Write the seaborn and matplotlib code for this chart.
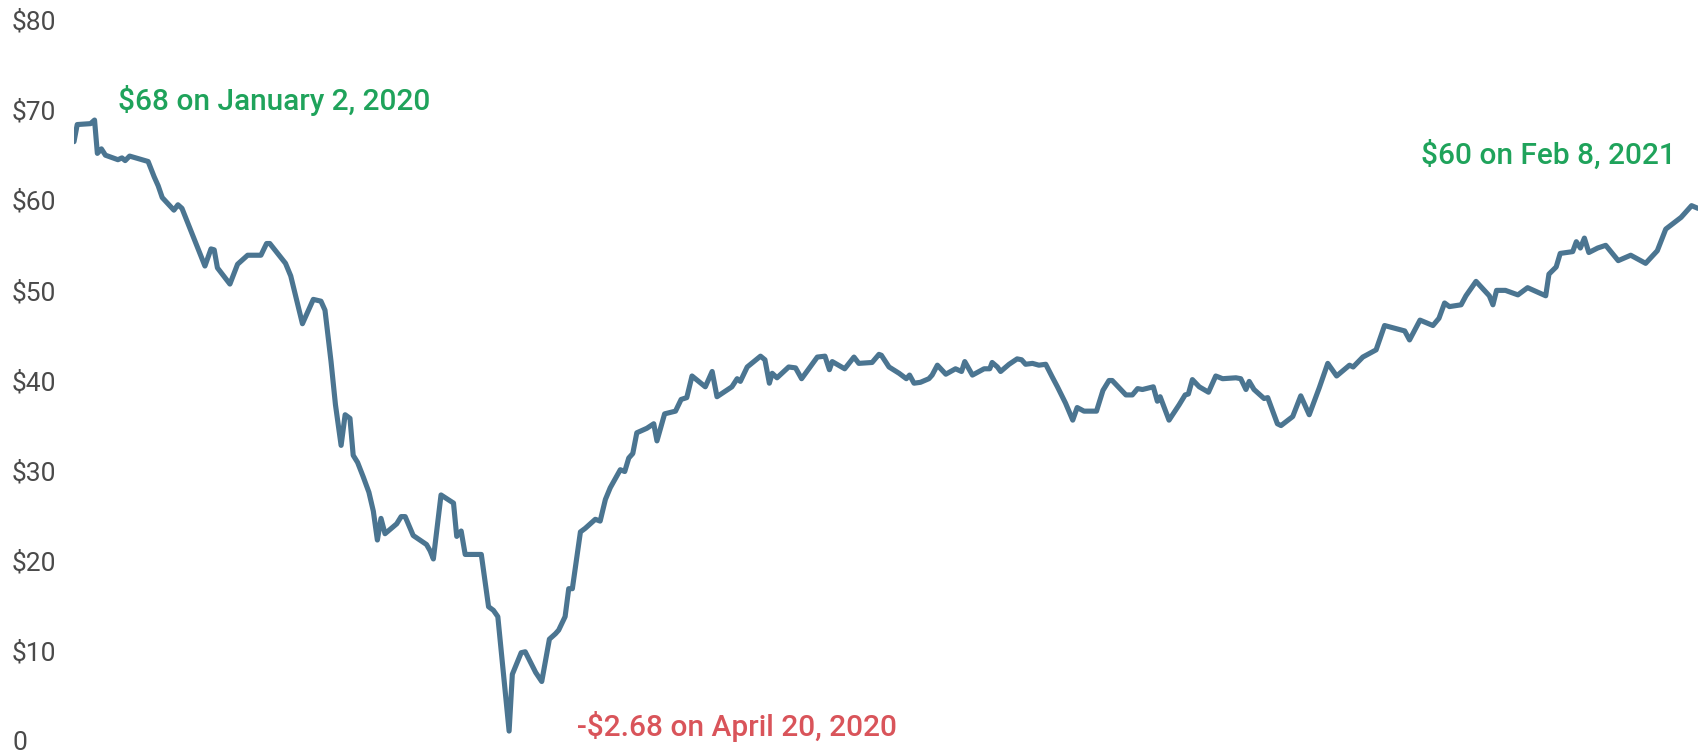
import matplotlib
matplotlib.use("Agg")

import numpy as np
import pandas as pd
import matplotlib.pyplot as plt
import seaborn as sns

# WTI crude price: days after Jan 2, 2020 and price ($)
day = [0.0, 0.8, 4.1, 5.1, 5.8, 6.8, 7.8, 10.9, 11.9, 12.7, 13.8, 18.4, 19.9, 20.9,
       21.9, 24.8, 25.8, 26.8, 32.5, 34.0, 34.8, 35.6, 38.7, 40.6, 43.1, 46.4, 47.8,
       48.6, 52.5, 53.8, 56.7, 59.4, 61.3, 62.3, 63.8, 64.9, 66.3, 67.3, 68.5, 69.3,
       70.4, 71.8, 73.2, 74.3, 75.3, 76.2, 77.2, 80.1, 81.2, 82.2, 84.2, 87.5, 88.4,
       89.2, 91.1, 94.2, 95.0, 96.1, 97.1, 101.1, 102.9, 104.1, 105.2, 108.0, 108.8,
       111.0, 112.0, 114.6, 116.1, 118.0, 119.5, 120.3, 121.9, 122.8, 123.7, 125.7,
       126.9, 129.4, 130.6, 131.9, 133.1, 135.6, 136.7, 137.7, 138.7, 139.7, 142.2,
       143.9, 144.7, 146.6, 149.3, 150.7, 152.1, 153.4, 156.7, 158.4, 159.6, 163.3,
       164.6, 165.4, 167.1, 170.4, 171.5, 172.6, 173.3, 174.5, 177.4, 179.1, 180.6,
       184.5, 186.4, 187.5, 188.2, 191.3, 193.6, 194.8, 198.1, 199.8, 200.4, 202.3,
       204.8, 206.6, 207.4, 208.5, 210.1, 212.2, 213.0, 214.3, 216.4, 218.8, 220.3,
       221.1, 223.0, 225.9, 227.3, 227.9, 229.2, 230.0, 232.1, 234.1, 235.2, 236.2,
       237.9, 239.5, 241.2, 242.8, 244.1, 246.1, 247.9, 249.0, 250.7, 253.8, 255.4,
       256.9, 257.7, 261.1, 262.7, 264.0, 265.2, 267.9, 268.9, 269.6, 271.8, 274.3,
       275.8, 276.6, 277.6, 279.3, 281.6, 283.4, 285.1, 288.4, 289.6, 290.9, 291.7,
       292.9, 295.4, 296.3, 298.7, 299.6, 302.5, 304.5, 306.6, 309.1, 311.2, 313.4,
       316.6, 317.5, 318.6, 319.9, 323.2, 325.3, 330.3, 331.5, 334.1, 337.3, 338.8,
       340.2, 341.4, 344.3, 345.5, 348.0, 351.3, 352.2, 353.1, 355.3, 358.4, 360.8,
       365.3, 366.1, 367.9, 368.9, 372.0, 372.9, 373.9, 374.9, 376.0, 378.2, 380.2,
       383.3, 386.4, 390.1, 393.0, 395.1, 398.9, 401.5, 403.1]
price = [66.5, 68.4, 68.5, 68.9, 65.2, 65.7, 65.0, 64.5, 64.7, 64.4, 64.9, 64.3, 62.6, 61.6,
         60.3, 58.9, 59.5, 59.1, 52.7, 54.6, 54.5, 52.5, 50.7, 52.9, 53.9, 53.9, 55.2,
         55.2, 53.0, 51.6, 46.3, 49.0, 48.8, 47.8, 42.1, 37.3, 32.8, 36.2, 35.8, 31.7,
         30.9, 29.3, 27.6, 25.5, 22.3, 24.7, 23.0, 24.1, 24.9, 24.9, 22.8, 21.8, 21.1,
         20.2, 27.3, 26.4, 22.7, 23.3, 20.7, 20.7, 14.9, 14.5, 13.8, 1.1, 7.4,
         9.8, 9.9, 7.6, 6.6, 11.3, 11.9, 12.3, 13.8, 16.9, 16.9, 23.2,
         23.6, 24.6, 24.4, 26.8, 28.1, 30.1, 29.9, 31.4, 31.9, 34.2, 34.7,
         35.2, 33.3, 36.3, 36.6, 37.9, 38.1, 40.5, 39.3, 41.0, 38.2, 39.3,
         40.2, 39.9, 41.5, 42.7, 42.3, 39.7, 40.8, 40.3, 41.5, 41.4, 40.2,
         42.6, 42.7, 41.2, 42.1, 41.3, 42.6, 41.9, 42.0, 42.9, 42.8, 41.5,
         40.8, 40.2, 40.6, 39.7, 39.8, 40.2, 40.6, 41.7, 40.7, 41.3, 41.0,
         42.1, 40.6, 41.3, 41.3, 42.0, 41.5, 41.0, 41.8, 42.4, 42.3, 41.8,
         41.9, 41.7, 41.8, 40.4, 39.3, 37.5, 35.6, 37.0, 36.6, 36.6, 38.9,
         40.0, 40.0, 38.4, 38.4, 39.1, 39.0, 39.3, 37.7, 38.2, 35.6, 37.3,
         38.4, 38.5, 40.1, 39.3, 38.7, 40.5, 40.2, 40.3, 40.2, 39.0, 39.9,
         39.0, 38.0, 38.1, 35.2, 35.0, 36.0, 38.3, 36.2, 39.2, 41.9, 40.5,
         41.7, 41.5, 42.0, 42.6, 43.4, 46.1, 45.5, 44.5, 46.7, 46.1, 46.9,
         48.6, 48.2, 48.4, 49.4, 51.0, 49.4, 48.4, 50.0, 50.0, 49.5, 50.3,
         49.4, 51.8, 52.6, 54.1, 54.3, 55.4, 54.7, 55.8, 54.2, 54.7, 55.0,
         53.3, 53.9, 53.0, 54.4, 56.8, 58.1, 59.4, 59.1]

y_ticks = [0, 10, 20, 30, 40, 50, 60, 70, 80]
y_labels = ["0", "$10", "$20", "$30", "$40", "$50", "$60", "$70", "$80"]

df = pd.DataFrame({
    "date": pd.Timestamp("2020-01-02") + pd.to_timedelta(day, unit="D"),
    "price": price,
})

sns.set_style("white")
plt.rcParams["font.family"] = ["Roboto", "DejaVu Sans"]

W, H = 1707, 754
fig = plt.figure(figsize=(W / 100, H / 100), dpi=100)
ax = fig.add_axes([74 / W, 13 / H, (1698 - 74) / W, (741 - 20) / H])

sns.lineplot(data=df, x="date", y="price", ax=ax, color="#4b7591", linewidth=3.7)

ax.set_xlim(df["date"].iloc[0], df["date"].iloc[-1])
ax.set_ylim(0, 80)
ax.set_yticks(y_ticks)
ax.set_yticklabels(y_labels, ha="left", fontsize=19, color="#4a4a4a")
ax.tick_params(axis="y", length=0, pad=44.6)
ax.set_xticks([])
ax.set_xlabel("")
ax.set_ylabel("")
sns.despine(ax=ax, left=True, bottom=True)

# annotations
ann = dict(fontsize=21.5, fontweight="medium", va="center", ha="left")
fig.text(118 / W, 1 - 100 / H, "$68 on January 2, 2020", color="#1fa35b", **ann)
fig.text(577 / W, 1 - 726 / H, "-$2.68 on April 20, 2020", color="#d9545a", **ann)
fig.text(1421 / W, 1 - 155 / H, "$60 on Feb 8, 2021", color="#1fa35b", **ann)

fig.savefig("out.png", dpi=100)
plt.close(fig)
